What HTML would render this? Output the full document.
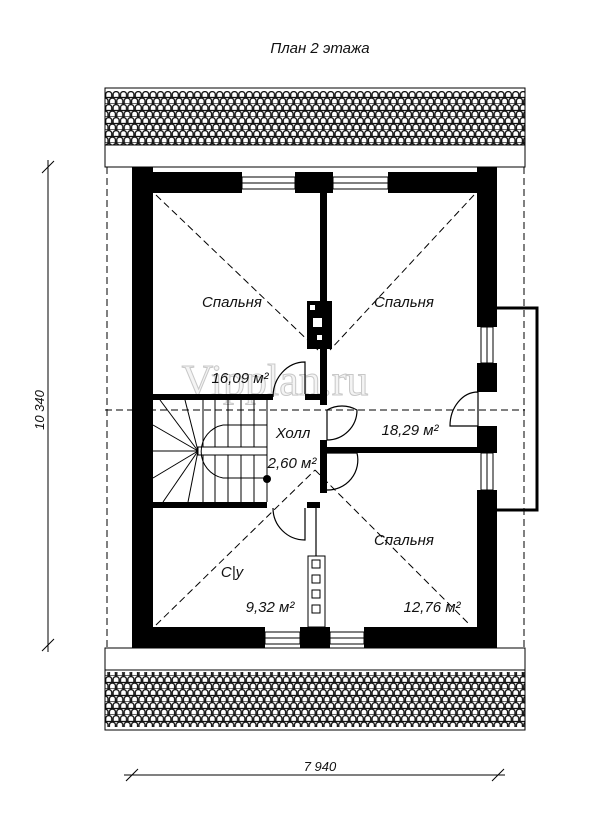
<!DOCTYPE html>
<html><head><meta charset="utf-8"><style>
body{margin:0;background:#fff}
svg{display:block}
text{font-family:"Liberation Sans",sans-serif;font-style:italic;fill:#111}
</style></head><body>
<svg width="600" height="827" viewBox="0 0 600 827" xmlns="http://www.w3.org/2000/svg">
<defs>
<pattern id="tile" x="105" y="91" width="7.4" height="13" patternUnits="userSpaceOnUse">
<rect width="7.4" height="13" fill="#fff"/>
<g fill="none" stroke="#111" stroke-width="1.3">
<path d="M0.7 6.5 V3.2 A3 2.6 0 0 1 6.7 3.2 V6.5"/>
<path d="M-3 13 V9.7 A3 2.6 0 0 1 3 9.7 V13 M4.4 13 V9.7 A3 2.6 0 0 1 10.4 9.7 V13"/>
<line x1="0" y1="6.5" x2="7.4" y2="6.5"/>
<line x1="0" y1="13" x2="7.4" y2="13"/>
</g>
</pattern>
</defs>
<text x="320" y="53" font-size="15" text-anchor="middle">План 2 этажа</text>
<!-- roofs -->
<rect x="105" y="88" width="420" height="79" fill="#fff" stroke="#000"/>
<rect x="105.5" y="91" width="419" height="54" fill="url(#tile)"/>
<line x1="105" y1="145" x2="525" y2="145" stroke="#000"/>
<rect x="105" y="648" width="420" height="82" fill="#fff" stroke="#000"/>
<rect x="105.5" y="672" width="419" height="55" fill="url(#tile)"/>
<line x1="105" y1="670" x2="525" y2="670" stroke="#000"/>
<!-- dashed outline -->
<g stroke="#000" stroke-dasharray="7 4" fill="none" stroke-width="1">
<line x1="107" y1="167" x2="107" y2="648"/>
<line x1="524" y1="167" x2="524" y2="648"/>
<line x1="105" y1="410" x2="525" y2="410"/>
<line x1="156" y1="195" x2="318" y2="350"/>
<line x1="474" y1="195" x2="330" y2="350"/>
<line x1="156" y1="625" x2="315" y2="470"/>
<line x1="315" y1="470" x2="470" y2="625"/>
</g>
<!-- watermark -->
<text x="275" y="395" font-size="44" text-anchor="middle" style="font-family:'Liberation Serif',serif;font-style:normal;fill:#f4f4f4;stroke:#c8c8c8;stroke-width:1">Vipplan.ru</text>
<!-- walls -->
<g fill="#000">
<rect x="132" y="167" width="21" height="481"/>
<rect x="477" y="167" width="20" height="160"/>
<rect x="477" y="363" width="20" height="29"/>
<rect x="477" y="426" width="20" height="27"/>
<rect x="477" y="490" width="20" height="158"/>
<rect x="153" y="172" width="89" height="21"/>
<rect x="295" y="172" width="38" height="21"/>
<rect x="388" y="172" width="89" height="21"/>
<rect x="132" y="627" width="133" height="21"/>
<rect x="300" y="627" width="30" height="21"/>
<rect x="364" y="627" width="113" height="21"/>
<rect x="320" y="193" width="7" height="212"/>
<rect x="307" y="301" width="25" height="48"/>
<rect x="153" y="394" width="120" height="6"/>
<rect x="305" y="394" width="15" height="6"/>
<rect x="153" y="502" width="114" height="6"/>
<rect x="307" y="502" width="13" height="6"/>
<rect x="320" y="440" width="7" height="53"/>
<rect x="327" y="447" width="150" height="6"/>
</g>
<g fill="#fff">
<rect x="310" y="305" width="5" height="5"/><rect x="313" y="318" width="9" height="9"/><rect x="317" y="335" width="5" height="5"/>
</g>
<!-- windows -->
<g stroke="#000" fill="#fff" stroke-width="1">
<rect x="242" y="177" width="53" height="12"/><line x1="242" y1="183" x2="295" y2="183"/>
<rect x="333" y="177" width="55" height="12"/><line x1="333" y1="183" x2="388" y2="183"/>
<rect x="265" y="632" width="35" height="12"/><line x1="265" y1="638" x2="300" y2="638"/>
<rect x="330" y="632" width="34" height="12"/><line x1="330" y1="638" x2="364" y2="638"/>
<rect x="481" y="327" width="12" height="36"/><line x1="487" y1="327" x2="487" y2="363"/>
<rect x="481" y="453" width="12" height="37"/><line x1="487" y1="453" x2="487" y2="490"/>
</g>
<!-- balcony -->
<polyline points="497,308 537,308 537,510 497,510" fill="none" stroke="#000" stroke-width="3"/>
<!-- doors -->
<g fill="none" stroke="#000" stroke-width="1.2">
<path d="M273 397 A32 35 0 0 1 305 362 L305 394"/>
<path d="M327 410 L327 440 A30 30 0 0 0 357 410 A30 30 0 0 0 327 410"/>
<path d="M327 453 L357 453 A30 30 0 0 1 327 490"/>
<path d="M305 508 L305 540 A32 32 0 0 1 273 508"/>
<path d="M478 392 L478 426 L450 426 A28 34 0 0 1 478 392"/>
<line x1="316" y1="508" x2="316" y2="627"/>
</g>
<!-- vent block -->
<rect x="308" y="556" width="17" height="71" fill="#fff" stroke="#000"/>
<g fill="none" stroke="#000"><rect x="312" y="560" width="8" height="8"/><rect x="312" y="575" width="8" height="8"/><rect x="312" y="590" width="8" height="8"/><rect x="312" y="605" width="8" height="8"/></g>
<!-- stairs -->
<g stroke="#000" stroke-width="1" fill="none">
<line x1="267" y1="400" x2="267" y2="502"/>
<rect x="198" y="447" width="69" height="8" fill="#fff"/>
<path d="M223 425 A27 27 0 0 0 223 478"/>
<line x1="198" y1="451" x2="153" y2="451"/>
<line x1="198" y1="451" x2="153" y2="425"/>
<line x1="198" y1="451" x2="160" y2="400"/>
<line x1="198" y1="451" x2="185" y2="400"/>
<line x1="198" y1="451" x2="153" y2="478"/>
<line x1="198" y1="451" x2="163" y2="502"/>
<line x1="198" y1="451" x2="188" y2="502"/>
<line x1="223" y1="425" x2="267" y2="425"/>
<line x1="223" y1="478" x2="267" y2="478"/>
<line x1="203" y1="400" x2="203" y2="447"/><line x1="215" y1="400" x2="215" y2="447"/><line x1="228" y1="400" x2="228" y2="447"/><line x1="241" y1="400" x2="241" y2="447"/><line x1="254" y1="400" x2="254" y2="447"/>
<line x1="203" y1="455" x2="203" y2="502"/><line x1="215" y1="455" x2="215" y2="502"/><line x1="228" y1="455" x2="228" y2="502"/><line x1="241" y1="455" x2="241" y2="502"/><line x1="254" y1="455" x2="254" y2="502"/>
</g>
<circle cx="267" cy="479" r="4" fill="#000"/>
<!-- labels -->
<g font-size="15">
<text x="232" y="307" text-anchor="middle">Спальня</text>
<text x="404" y="307" text-anchor="middle">Спальня</text>
<text x="240" y="383" text-anchor="middle">16,09 м²</text>
<text x="293" y="438" text-anchor="middle">Холл</text>
<text x="410" y="435" text-anchor="middle">18,29 м²</text>
<text x="292" y="468" text-anchor="middle">2,60 м²</text>
<text x="404" y="545" text-anchor="middle">Спальня</text>
<text x="232" y="577" text-anchor="middle">С|у</text>
<text x="270" y="612" text-anchor="middle">9,32 м²</text>
<text x="432" y="612" text-anchor="middle">12,76 м²</text>
</g>
<!-- dimensions -->
<g stroke="#000" stroke-width="1">
<line x1="48" y1="160" x2="48" y2="652"/>
<line x1="42" y1="173" x2="54" y2="161"/><line x1="42" y1="651" x2="54" y2="639"/>
<line x1="124" y1="775" x2="505" y2="775"/>
<line x1="126" y1="781" x2="138" y2="769"/><line x1="492" y1="781" x2="504" y2="769"/>
</g>
<text x="320" y="771" font-size="13" text-anchor="middle">7 940</text>
<text transform="translate(44,410) rotate(-90)" font-size="13" text-anchor="middle">10 340</text>
</svg>
</body></html>
